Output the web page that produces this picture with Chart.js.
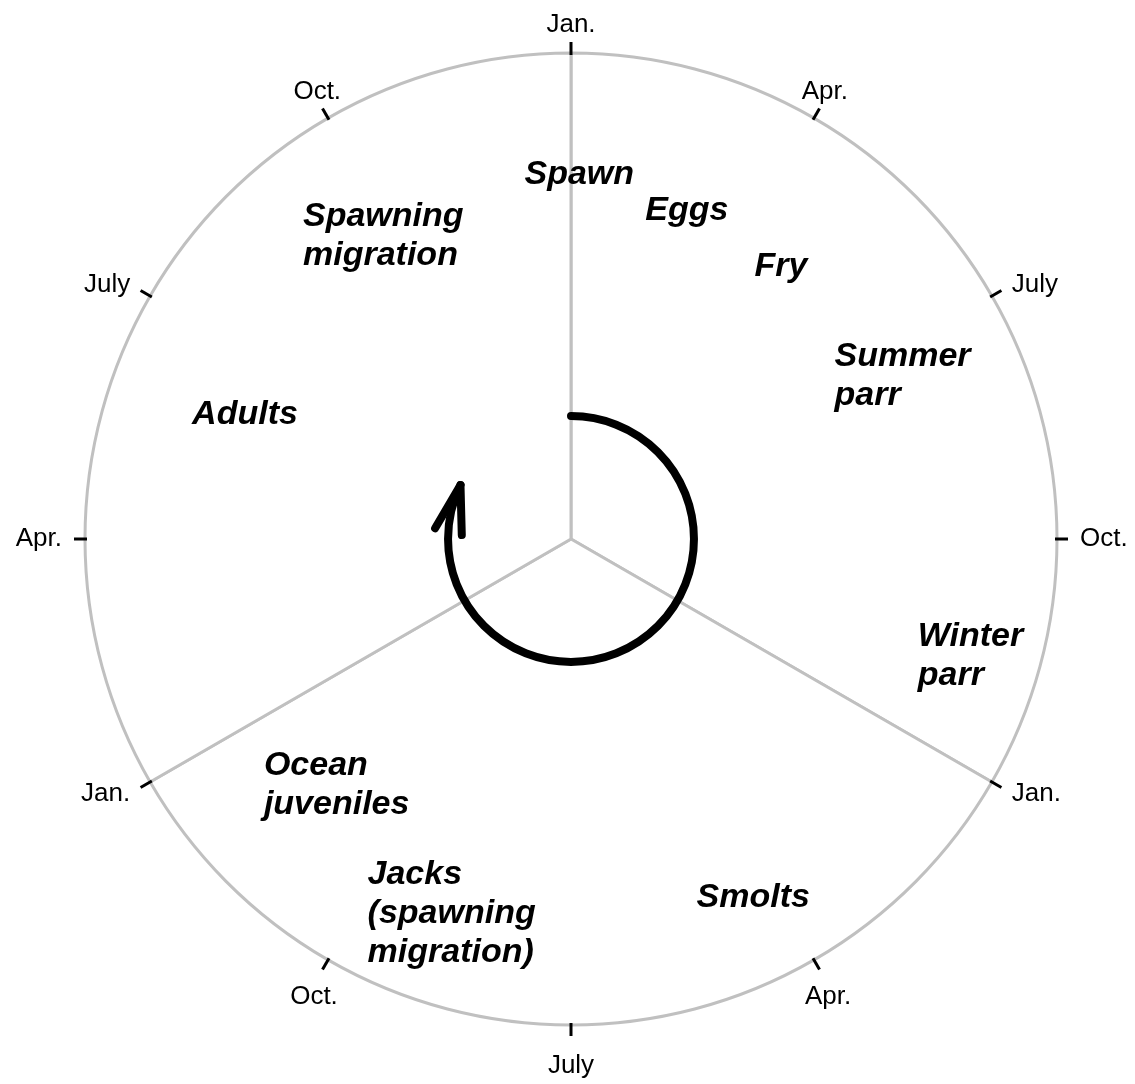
<!DOCTYPE html>
<html>
<head>
<meta charset="utf-8">
<script src="https://cdn.jsdelivr.net/npm/chart.js@4.4.0/dist/chart.umd.min.js"></script>
<style>
  html, body { margin: 0; padding: 0; background: #fff; }
  #wrap { width: 1135px; height: 1084px; }
</style>
</head>
<body>
<div id="wrap"><canvas id="cycle"></canvas></div>
<script>
// the ring is three years of the life cycle, 12 months each
const years = ['Year 1', 'Year 2', 'Year 3'];
const monthsPerYear = [12, 12, 12];

// quarter ticks, starting at the top and going clockwise
const tickLabels = ['Jan.', 'Apr.', 'July', 'Oct.', 'Jan.', 'Apr.', 'July', 'Oct.', 'Jan.', 'Apr.', 'July', 'Oct.'];
const tickStep = 3; // months between ticks

// life stages and the month on the ring (0..36 from the top) where each one sits
const stageNames = ['Spawn', 'Eggs', 'Fry', 'Summer\nparr', 'Winter\nparr', 'Smolts',
    'Jacks\n(spawning\nmigration)', 'Ocean\njuveniles', 'Adults', 'Spawning\nmigration'];
const stageMonth = [0.13, 1.94, 3.75, 6.37, 10.62, 15.3, 19.77, 22.37, 29.11, 32.83];

// how far out each stage label sits, as a share of the ring radius
const labelRadius = [0.751, 0.718, 0.71, 0.761, 0.856, 0.826, 0.808, 0.698, 0.719, 0.735];

// the arrow in the middle goes from the top round to here (months)
const arrowEnd = 29.6;

const cyclePlugin = {
    id: 'cycle',
    afterDatasetsDraw(chart) {
        const arc = chart.getDatasetMeta(0).data[0];
        const cx = arc.x, cy = arc.y, R = arc.outerRadius;
        const total = monthsPerYear.reduce((a, b) => a + b, 0);
        const ctx = chart.ctx;
        const ang = m => m / total * Math.PI * 2; // clockwise from the top
        const pt = (m, r) => [cx + r * Math.sin(ang(m)), cy - r * Math.cos(ang(m))];

        ctx.save();

        // ticks + month labels
        ctx.strokeStyle = '#000';
        ctx.fillStyle = '#000';
        ctx.lineWidth = 3;
        ctx.lineCap = 'butt';
        ctx.font = '26px "Liberation Sans", Arial, sans-serif';
        tickLabels.forEach((lab, i) => {
            const m = i * tickStep;
            const s = Math.sin(ang(m)), c = Math.cos(ang(m));
            const [x1, y1] = pt(m, R - 2);
            const [x2, y2] = pt(m, R + 11);
            ctx.beginPath();
            ctx.moveTo(x1, y1);
            ctx.lineTo(x2, y2);
            ctx.stroke();

            ctx.textAlign = Math.abs(s) < 0.6 ? 'center' : (s > 0 ? 'left' : 'right');
            let gap = 23;
            if (c > 0.8) {
                ctx.textBaseline = 'alphabetic';
                gap = 21.5;
            } else if (c < -0.8) {
                ctx.textBaseline = 'top';
                gap = 28;
            } else {
                ctx.textBaseline = 'middle';
            }
            const [tx, ty] = pt(m, R + gap);
            ctx.fillText(lab, tx, ty);
        });

        // stage labels, left aligned blocks centred on their spot
        ctx.font = 'italic bold 34px "Liberation Sans", Arial, sans-serif';
        ctx.textAlign = 'left';
        ctx.textBaseline = 'middle';
        const lineH = 39;
        stageNames.forEach((name, i) => {
            const lines = name.split('\n');
            const [bx, by] = pt(stageMonth[i], R * labelRadius[i]);
            const w = Math.max(...lines.map(l => ctx.measureText(l).width));
            lines.forEach((l, j) => {
                ctx.fillText(l, bx - w / 2, by + 1 + (j - (lines.length - 1) / 2) * lineH);
            });
        });

        // arrow
        const ar = R * 0.253;
        ctx.lineWidth = 8;
        ctx.lineCap = 'round';
        ctx.lineJoin = 'round';
        ctx.beginPath();
        ctx.arc(cx, cy, ar, ang(0) - Math.PI / 2, ang(arrowEnd) - Math.PI / 2);
        ctx.stroke();

        const [tipX, tipY] = pt(arrowEnd, ar);
        const [bkX, bkY] = pt(arrowEnd - 2.3, ar);
        let dx = bkX - tipX, dy = bkY - tipY;
        const len = Math.hypot(dx, dy);
        dx /= len; dy /= len;
        const head = 50, spread = 16 * Math.PI / 180;
        ctx.beginPath();
        [-spread, spread].forEach(t => {
            const hx = dx * Math.cos(t) - dy * Math.sin(t);
            const hy = dx * Math.sin(t) + dy * Math.cos(t);
            ctx.moveTo(tipX, tipY);
            ctx.lineTo(tipX + hx * head, tipY + hy * head);
        });
        ctx.stroke();

        ctx.restore();
    }
};

new Chart(document.getElementById('cycle'), {
    type: 'pie',
    data: {
        labels: years,
        datasets: [{
            data: monthsPerYear,
            backgroundColor: '#ffffff',
            borderColor: '#c0c0c0',
            borderWidth: 3,
            hoverOffset: 0
        }]
    },
    options: {
        responsive: true,
        maintainAspectRatio: false,
        animation: false,
        radius: 486,
        layout: {padding: {left: 7, right: 0, top: 0, bottom: 6}},
        plugins: {
            legend: {display: false},
            tooltip: {enabled: false}
        },
        events: []
    },
    plugins: [cyclePlugin]
});
</script>
</body>
</html>
